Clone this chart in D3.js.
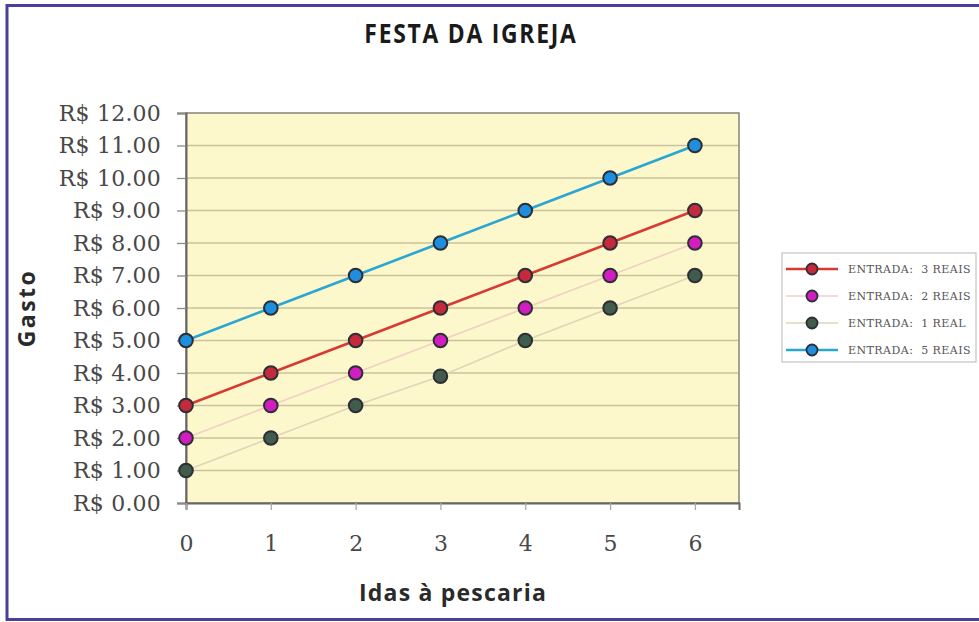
<!DOCTYPE html>
<html><head><meta charset="utf-8">
<script src="https://cdn.jsdelivr.net/npm/d3@7"></script>
<style>body{margin:0;background:#fff}svg{display:block}</style>
</head><body>
<svg id="c" width="979" height="622"></svg>
<script>
const title = "FESTA DA IGREJA";
const xTitle = "Idas à pescaria";
const yTitle = "Gasto";
const xValues = [0, 1, 2, 3, 4, 5, 6];
const yTicks = [0, 1, 2, 3, 4, 5, 6, 7, 8, 9, 10, 11, 12];
const seriesNames = ["ENTRADA:  3 REAIS", "ENTRADA:  2 REAIS", "ENTRADA:  1 REAL", "ENTRADA:  5 REAIS"];
const entrada3 = [3, 4, 5, 6, 7, 8, 9];
const entrada2 = [2, 3, 4, 5, 6, 7, 8];
const entrada1 = [1, 2, 3, 3.9, 5, 6, 7];
const entrada5 = [5, 6, 7, 8, 9, 10, 11];

const series = [
  {name: seriesNames[0], values: entrada3, line: "#d63a32", lw: 2.6, fill: "#c42a3c"},
  {name: seriesNames[1], values: entrada2, line: "#f2cfc4", lw: 1.6, fill: "#d21ec0"},
  {name: seriesNames[2], values: entrada1, line: "#ddd6b8", lw: 1.6, fill: "#3f5c4c"},
  {name: seriesNames[3], values: entrada5, line: "#2aa6d4", lw: 2.6, fill: "#1e8ede"}
];

const svg = d3.select("#c");
// outer frame
svg.append("rect").attr("x", 7).attr("y", 5.5).attr("width", 1000).attr("height", 614)
  .attr("fill", "#fff").attr("stroke", "#4b3f9c").attr("stroke-width", 3);

const L = 186, R = 739, T = 113, B = 503;
const x = d3.scaleLinear().domain([-0.0, 6.52]).range([L, R]);
const y = d3.scaleLinear().domain([0, 12]).range([B, T]);

svg.append("rect").attr("x", L).attr("y", T).attr("width", R - L).attr("height", B - T)
  .attr("fill", "#fdf7cc");

// gridlines
svg.append("g").selectAll("line").data(yTicks.filter(d => d > 0 && d < 12)).join("line")
  .attr("x1", L).attr("x2", R).attr("y1", d => y(d)).attr("y2", d => y(d))
  .attr("stroke", "#c9c29c").attr("stroke-width", 1.3);

// plot border
svg.append("rect").attr("x", L).attr("y", T).attr("width", R - L).attr("height", B - T)
  .attr("fill", "none").attr("stroke", "#8c8a84").attr("stroke-width", 1.6);

// y axis
const yAxis = d3.axisLeft(y).tickValues(yTicks).tickSize(9).tickPadding(16)
  .tickFormat(d => "R$ " + d3.format(".2f")(d));
const gy = svg.append("g").attr("transform", `translate(${L},0)`).call(yAxis);
gy.select(".domain").attr("stroke", "#666").attr("stroke-width", 2);
gy.selectAll(".tick line").attr("stroke", "#8c8a84").attr("stroke-width", 1.3);
gy.selectAll("text").attr("font-family", "DejaVu Serif").attr("font-size", 22)
  .attr("fill", "#484848").attr("letter-spacing", 0.2);

// x axis
const xAxis = d3.axisBottom(x).tickValues(xValues).tickSize(7).tickPadding(25).tickFormat(d3.format("d"));
const gx = svg.append("g").attr("transform", `translate(0,${B})`).call(xAxis);
gx.select(".domain").attr("stroke", "#666").attr("stroke-width", 2);
gx.selectAll(".tick line").attr("stroke", "#aaa").attr("stroke-width", 1.3);
gx.selectAll("text").attr("font-family", "DejaVu Serif").attr("font-size", 22).attr("fill", "#484848");

// lines & markers
const lineGen = d3.line().x((d, i) => x(xValues[i])).y(d => y(d));
series.forEach(s => {
  svg.append("path").datum(s.values).attr("d", lineGen).attr("fill", "none")
    .attr("stroke", s.line).attr("stroke-width", s.lw);
});
series.forEach(s => {
  svg.append("g").selectAll("circle").data(s.values).join("circle")
    .attr("cx", (d, i) => x(xValues[i])).attr("cy", d => y(d)).attr("r", 6.8)
    .attr("fill", s.fill).attr("stroke", "#2e2e36").attr("stroke-width", 2);
});

// titles
svg.append("text").attr("x", 471).attr("y", 43).attr("text-anchor", "middle")
  .attr("font-family", "Open Sans").attr("font-weight", "bold").attr("font-size", 26)
  .attr("letter-spacing", 2)
  .attr("fill", "#1a1a1a").attr("transform", "translate(471,0) scale(0.88,1) translate(-471,0)")
  .text(title);
svg.append("text").attr("x", 453).attr("y", 601).attr("text-anchor", "middle")
  .attr("font-family", "Open Sans").attr("font-weight", "bold").attr("font-size", 23)
  .attr("letter-spacing", 1.2)
  .attr("fill", "#2a2a2a").text(xTitle);
svg.append("text").attr("transform", "translate(35,308) rotate(-90)").attr("text-anchor", "middle")
  .attr("font-family", "Open Sans").attr("font-weight", "bold").attr("font-size", 23)
  .attr("fill", "#2a2a2a").attr("letter-spacing", 2.5).text(yTitle);

// legend
const lg = svg.append("g").attr("transform", "translate(782,253)");
lg.append("rect").attr("width", 194).attr("height", 109).attr("fill", "#fff")
  .attr("stroke", "#c8c8c8").attr("stroke-width", 1.3);
series.forEach((s, i) => {
  const yy = 16 + i * 27;
  lg.append("line").attr("x1", 4).attr("x2", 56).attr("y1", yy).attr("y2", yy)
    .attr("stroke", s.line).attr("stroke-width", s.lw);
  lg.append("circle").attr("cx", 30).attr("cy", yy).attr("r", 5.5)
    .attr("fill", s.fill).attr("stroke", "#2e2e36").attr("stroke-width", 1.8);
  lg.append("text").attr("x", 66).attr("y", yy + 4).attr("font-family", "DejaVu Serif")
    .attr("font-size", 11).attr("letter-spacing", 0.45).attr("fill", "#555")
    .attr("xml:space", "preserve").text(s.name);
});
</script>
</body></html>
